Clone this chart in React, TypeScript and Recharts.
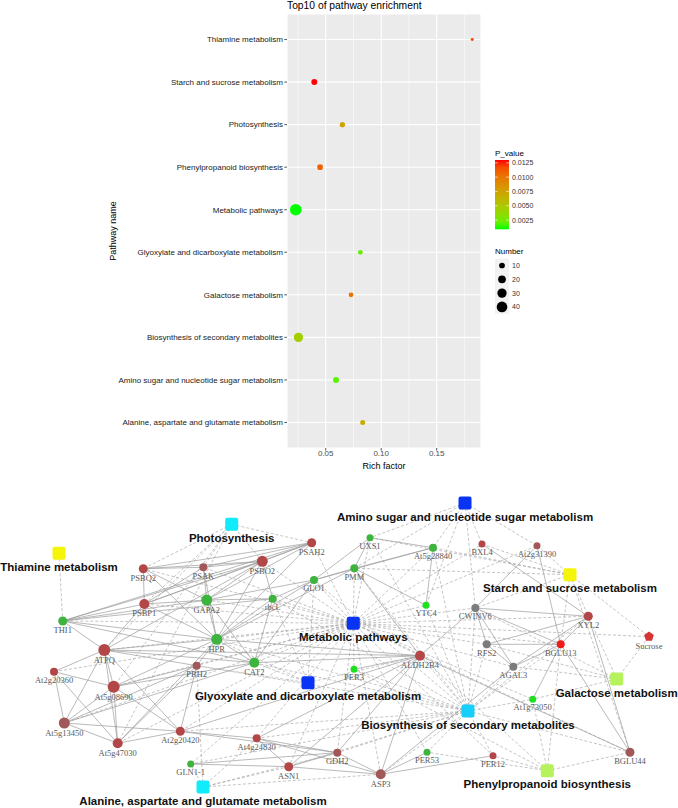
import React from 'react'
import {
  ScatterChart,
  Scatter,
  XAxis,
  YAxis,
  ZAxis,
  CartesianGrid,
  ReferenceLine,
  Cell,
} from 'recharts'

// ---------- enrichment dot plot data ----------
const PATHWAYS = [
  'Thiamine metabolism',
  'Starch and sucrose metabolism',
  'Photosynthesis',
  'Phenylpropanoid biosynthesis',
  'Metabolic pathways',
  'Glyoxylate and dicarboxylate metabolism',
  'Galactose metabolism',
  'Biosynthesis of secondary metabolites',
  'Amino sugar and nucleotide sugar metabolism',
  'Alanine, aspartate and glutamate metabolism',
]
const RICH_FACTOR = [0.182, 0.0397, 0.065, 0.0449, 0.023, 0.0812, 0.0728, 0.0254, 0.0593, 0.0833]
const P_VALUE = [0.0118, 0.013, 0.0075, 0.0108, 0.00088, 0.0022, 0.0102, 0.0045, 0.0018, 0.0068]
const GENE_NUMBER = [1, 11, 8, 10, 48, 6, 6, 30, 11, 7]
const X_TICKS = [0.05, 0.1, 0.15]
const X_MINOR = [0.025, 0.075, 0.125, 0.175]
const P_TICKS = [0.0125, 0.01, 0.0075, 0.005, 0.0025]
const SIZE_TICKS = [10, 20, 30, 40]

// ---------- network data (layout units of the network panel) ----------
const PATHWAY_NODES = [
  { id: 'amino', label: 'Amino sugar and nucleotide sugar metabolism', x: 465, y: 33, kind: 'blue' },
  { id: 'photo', label: 'Photosynthesis', x: 231.7, y: 54.3, kind: 'cyan' },
  { id: 'thiamine', label: 'Thiamine metabolism', x: 59, y: 83.3, kind: 'yellow' },
  { id: 'starch', label: 'Starch and sucrose metabolism', x: 570, y: 104.7, kind: 'yellow' },
  { id: 'metabolic', label: 'Metabolic pathways', x: 353.3, y: 153.3, kind: 'blue' },
  { id: 'glyox', label: 'Glyoxylate and dicarboxylate metabolism', x: 308, y: 212.7, kind: 'blue' },
  { id: 'galactose', label: 'Galactose metabolism', x: 616.7, y: 209, kind: 'lime' },
  { id: 'biosynth', label: 'Biosynthesis of secondary metabolites', x: 468, y: 241, kind: 'sky' },
  { id: 'phenyl', label: 'Phenylpropanoid biosynthesis', x: 547.3, y: 300.7, kind: 'lime' },
  { id: 'alanine', label: 'Alanine, aspartate and glutamate metabolism', x: 203, y: 317, kind: 'cyan' },
]

// w = connectivity weight of the gene node
const GENE_NODES = [
  { id: 'PSAH2', x: 311.7, y: 72.7, cls: 'red', w: 3 },
  { id: 'PSBQ2', x: 143.3, y: 98.7, cls: 'red', w: 3 },
  { id: 'PSAK', x: 203.3, y: 97.3, cls: 'brown', w: 2 },
  { id: 'PSBO2', x: 262.3, y: 91.3, cls: 'red', w: 5 },
  { id: 'GLO1', x: 314, y: 110, cls: 'green', w: 2 },
  { id: 'GAPA2', x: 206.7, y: 130, cls: 'green', w: 5 },
  { id: 'rbcL', x: 272.7, y: 128.7, cls: 'green', w: 2 },
  { id: 'PSBP1', x: 144.3, y: 134, cls: 'red', w: 4 },
  { id: 'THI1', x: 62.7, y: 151, cls: 'green', w: 3 },
  { id: 'HPR', x: 216.7, y: 169.3, cls: 'green', w: 5 },
  { id: 'ATPQ', x: 104.3, y: 180, cls: 'red', w: 6 },
  { id: 'At2g20360', x: 54, y: 201.7, cls: 'red', w: 2 },
  { id: 'PBH2', x: 196.7, y: 195.7, cls: 'brown', w: 2 },
  { id: 'CAT2', x: 254.3, y: 192.7, cls: 'green', w: 4 },
  { id: 'At5g08690', x: 113.7, y: 216.7, cls: 'red', w: 6 },
  { id: 'At5g13450', x: 64.3, y: 253, cls: 'brown', w: 5 },
  { id: 'At5g47030', x: 117.7, y: 273.3, cls: 'red', w: 4 },
  { id: 'At2g20420', x: 180.3, y: 261.3, cls: 'red', w: 3 },
  { id: 'At4g24830', x: 256.7, y: 268.3, cls: 'red', w: 2 },
  { id: 'GLN1-1', x: 190.7, y: 294, cls: 'green', w: 1 },
  { id: 'ASN1', x: 288.7, y: 296.7, cls: 'red', w: 3 },
  { id: 'GDH2', x: 337.3, y: 282.7, cls: 'brown', w: 2 },
  { id: 'ALDH2B4', x: 420, y: 185.7, cls: 'red', w: 4 },
  { id: 'PER3', x: 354, y: 199.3, cls: 'lime', w: 1 },
  { id: 'RFS2', x: 486.7, y: 174.3, cls: 'gray', w: 2 },
  { id: 'BGLU13', x: 560.7, y: 174.3, cls: 'bright', w: 2 },
  { id: 'AGAL3', x: 513.3, y: 196.7, cls: 'gray', w: 2 },
  { id: 'At1g73050', x: 532.7, y: 229.3, cls: 'lime', w: 1 },
  { id: 'PER53', x: 427, y: 282.3, cls: 'green', w: 1 },
  { id: 'PER12', x: 493, y: 285.7, cls: 'red', w: 1 },
  { id: 'ASP3', x: 380.7, y: 304.3, cls: 'brown', w: 4 },
  { id: 'BGLU44', x: 630, y: 282.3, cls: 'brown', w: 3 },
  { id: 'UXS1', x: 370, y: 67.7, cls: 'green', w: 1 },
  { id: 'At5g28840', x: 433, y: 77.7, cls: 'green', w: 2 },
  { id: 'BXL4', x: 482, y: 74, cls: 'red', w: 1 },
  { id: 'At2g31390', x: 537, y: 75.7, cls: 'brown', w: 1 },
  { id: 'PMM', x: 354.3, y: 98.3, cls: 'green', w: 2 },
  { id: 'YTC4', x: 426, y: 135.3, cls: 'lime', w: 1 },
  { id: 'CWINV6', x: 475.3, y: 138, cls: 'gray', w: 2 },
  { id: 'XYL2', x: 588.3, y: 146.3, cls: 'red', w: 3 },
  { id: 'Sucrose', x: 649, y: 166.7, cls: 'compound', w: 3 },
]

// pathway -> member genes (dashed edges)
const MEMBERS: Record<string, string[]> = {
  metabolic: [
    'PSAH2', 'PSBQ2', 'PSAK', 'PSBO2', 'GLO1', 'GAPA2', 'rbcL', 'PSBP1', 'THI1', 'HPR', 'ATPQ',
    'At2g20360', 'PBH2', 'CAT2', 'At5g08690', 'At5g13450', 'At5g47030', 'At2g20420', 'At4g24830',
    'GLN1-1', 'ASN1', 'GDH2', 'ALDH2B4', 'PER3', 'RFS2', 'BGLU13', 'AGAL3', 'At1g73050', 'ASP3',
    'BGLU44', 'UXS1', 'At5g28840', 'PMM', 'YTC4', 'CWINV6', 'XYL2', 'Sucrose', 'BXL4', 'At2g31390',
    'PER53', 'PER12',
  ],
  photo: ['PSAH2', 'PSBQ2', 'PSAK', 'PSBO2', 'PSBP1', 'ATPQ', 'At5g08690', 'At5g47030'],
  thiamine: ['THI1'],
  glyox: ['GLO1', 'HPR', 'CAT2', 'rbcL', 'PBH2', 'ALDH2B4'],
  amino: ['UXS1', 'At5g28840', 'PMM', 'BXL4', 'At2g31390', 'YTC4', 'CWINV6'],
  starch: ['BXL4', 'At2g31390', 'CWINV6', 'XYL2', 'BGLU13', 'BGLU44', 'Sucrose', 'UXS1', 'PMM', 'At5g28840'],
  galactose: ['RFS2', 'AGAL3', 'CWINV6', 'Sucrose', 'XYL2', 'At1g73050'],
  biosynth: [
    'PER3', 'PER53', 'PER12', 'BGLU13', 'BGLU44', 'At1g73050', 'ALDH2B4', 'ASP3', 'GDH2', 'At4g24830',
    'ASN1', 'At5g28840', 'UXS1', 'PMM', 'CAT2', 'GLO1', 'HPR', 'GLN1-1', 'YTC4', 'RFS2', 'AGAL3',
    'CWINV6', 'XYL2', 'rbcL', 'At2g20420', 'PBH2',
  ],
  phenyl: ['PER3', 'PER53', 'PER12', 'BGLU13', 'BGLU44', 'At1g73050', 'ALDH2B4'],
  alanine: ['GLN1-1', 'ASN1', 'GDH2', 'ASP3', 'At4g24830', 'PBH2'],
}

// gene - gene interactions (solid edges)
const LINKS: [string, string][] = [
  ['PSAH2', 'PSBQ2'], ['PSAH2', 'PSBO2'], ['PSAH2', 'PSAK'], ['PSAH2', 'PSBP1'], ['PSAH2', 'GAPA2'],
  ['PSAH2', 'THI1'], ['PSAH2', 'HPR'], ['PSBQ2', 'PSBO2'], ['PSBQ2', 'PSAK'], ['PSBQ2', 'PSBP1'],
  ['PSBQ2', 'HPR'], ['PSBQ2', 'GAPA2'], ['PSAK', 'PSBO2'], ['PSAK', 'GAPA2'], ['PSAK', 'HPR'],
  ['PSAK', 'PSBP1'], ['PSBO2', 'PSBP1'], ['PSBO2', 'GAPA2'], ['PSBO2', 'HPR'], ['PSBO2', 'rbcL'],
  ['PSBO2', 'THI1'], ['PSBO2', 'ATPQ'], ['PSBP1', 'GAPA2'], ['PSBP1', 'THI1'], ['PSBP1', 'ATPQ'],
  ['PSBP1', 'HPR'], ['THI1', 'GAPA2'], ['THI1', 'HPR'], ['THI1', 'ATPQ'], ['THI1', 'rbcL'],
  ['THI1', 'CAT2'], ['GAPA2', 'HPR'], ['GAPA2', 'rbcL'], ['GAPA2', 'GLO1'], ['GAPA2', 'CAT2'],
  ['HPR', 'GLO1'], ['HPR', 'CAT2'], ['HPR', 'rbcL'], ['HPR', 'ATPQ'], ['HPR', 'At5g08690'],
  ['HPR', 'ALDH2B4'], ['HPR', 'PMM'], ['GLO1', 'CAT2'], ['GLO1', 'rbcL'], ['GLO1', 'PMM'],
  ['GLO1', 'UXS1'], ['GLO1', 'At5g28840'], ['CAT2', 'ALDH2B4'], ['CAT2', 'rbcL'], ['CAT2', 'ATPQ'],
  ['CAT2', 'At5g13450'], ['ATPQ', 'At5g08690'], ['ATPQ', 'At5g13450'], ['ATPQ', 'At5g47030'],
  ['ATPQ', 'At2g20360'], ['ATPQ', 'At2g20420'], ['ATPQ', 'PBH2'], ['ATPQ', 'ALDH2B4'],
  ['At2g20360', 'At5g08690'], ['At2g20360', 'At5g13450'], ['At2g20360', 'At5g47030'],
  ['At5g08690', 'At5g13450'], ['At5g08690', 'At5g47030'], ['At5g08690', 'At2g20420'],
  ['At5g08690', 'PBH2'], ['At5g08690', 'CAT2'], ['At5g13450', 'At5g47030'], ['At5g13450', 'At2g20420'],
  ['At5g13450', 'PBH2'], ['At5g47030', 'At2g20420'], ['At5g47030', 'PBH2'], ['At5g47030', 'HPR'],
  ['At2g20420', 'PBH2'], ['At2g20420', 'ALDH2B4'], ['PBH2', 'HPR'],
  ['PMM', 'UXS1'], ['PMM', 'At5g28840'], ['PMM', 'YTC4'], ['PMM', 'ALDH2B4'], ['At5g28840', 'UXS1'],
  ['At5g28840', 'YTC4'], ['BXL4', 'XYL2'], ['At2g31390', 'CWINV6'], ['At2g31390', 'BGLU13'],
  ['CWINV6', 'XYL2'], ['CWINV6', 'RFS2'], ['CWINV6', 'AGAL3'], ['CWINV6', 'BGLU13'], ['CWINV6', 'ALDH2B4'],
  ['XYL2', 'BGLU13'], ['XYL2', 'RFS2'], ['XYL2', 'AGAL3'], ['XYL2', 'BGLU44'], ['RFS2', 'AGAL3'],
  ['RFS2', 'BGLU13'], ['AGAL3', 'BGLU13'], ['AGAL3', 'ASP3'], ['BGLU13', 'At1g73050'], ['BGLU13', 'BGLU44'],
  ['ALDH2B4', 'BGLU44'], ['ALDH2B4', 'GDH2'], ['ALDH2B4', 'ASP3'], ['ALDH2B4', 'ASN1'],
  ['ALDH2B4', 'At4g24830'], ['ALDH2B4', 'PER3'], ['ASN1', 'GDH2'], ['ASN1', 'ASP3'], ['ASN1', 'At4g24830'],
  ['ASN1', 'GLN1-1'], ['GDH2', 'ASP3'], ['GDH2', 'At4g24830'], ['GDH2', 'GLN1-1'], ['GDH2', 'At2g20420'],
  ['ASP3', 'At4g24830'], ['ASP3', 'PER12'], ['ASP3', 'PER53'], ['At4g24830', 'At2g20420'],
]

// ---------- styles ----------
const SANS = "'Liberation Sans', Arial, Helvetica, sans-serif"
const SERIF = "'Liberation Serif', 'DejaVu Serif', serif"

const PATHWAY_COLORS: Record<string, string> = {
  blue: '#0A34F5',
  cyan: '#12ECFA',
  sky: '#16CFFA',
  yellow: '#F5F50A',
  lime: '#B6F25C',
}
const GENE_COLORS: Record<string, string> = {
  red: '#B34747',
  brown: '#A25858',
  green: '#3DB43D',
  lime: '#1FE01F',
  gray: '#7C7C7C',
  bright: '#EE1B1B',
  compound: '#D63434',
}

// ggplot-like gradient: green -> red interpolated in Lab space
const toLin = (c: number) => {
  const v = c / 255
  return v <= 0.04045 ? v / 12.92 : Math.pow((v + 0.055) / 1.055, 2.4)
}
const fromLin = (c: number) => {
  const v = c <= 0.0031308 ? 12.92 * c : 1.055 * Math.pow(c, 1 / 2.4) - 0.055
  return Math.round(Math.max(0, Math.min(1, v)) * 255)
}
const WX = 0.95047
const WZ = 1.08883
function rgbToLab(rgb: number[]) {
  const [r, g, b] = rgb.map(toLin)
  const x = (r * 0.4124 + g * 0.3576 + b * 0.1805) / WX
  const y = r * 0.2126 + g * 0.7152 + b * 0.0722
  const z = (r * 0.0193 + g * 0.1192 + b * 0.9505) / WZ
  const f = (t: number) => (t > 0.008856 ? Math.cbrt(t) : 7.787 * t + 16 / 116)
  return [116 * f(y) - 16, 500 * (f(x) - f(y)), 200 * (f(y) - f(z))]
}
function labToHex(lab: number[]) {
  const fy = (lab[0] + 16) / 116
  const fx = fy + lab[1] / 500
  const fz = fy - lab[2] / 200
  const inv = (t: number) => (t * t * t > 0.008856 ? t * t * t : (t - 16 / 116) / 7.787)
  const x = inv(fx) * WX
  const y = inv(fy)
  const z = inv(fz) * WZ
  const r = fromLin(3.2406 * x - 1.5372 * y - 0.4986 * z)
  const g = fromLin(-0.9689 * x + 1.8758 * y + 0.0415 * z)
  const b = fromLin(0.0557 * x - 0.204 * y + 1.057 * z)
  return '#' + [r, g, b].map((v) => v.toString(16).padStart(2, '0')).join('')
}
const LAB_LOW = rgbToLab([0, 255, 0])
const LAB_HIGH = rgbToLab([255, 0, 0])
const P_MIN = Math.min(...P_VALUE)
const P_MAX = Math.max(...P_VALUE)
function pColor(p: number) {
  const t = (p - P_MIN) / (P_MAX - P_MIN)
  return labToHex(LAB_LOW.map((v, i) => v + (LAB_HIGH[i] - v) * t))
}

const SIZE_DOMAIN = [Math.min(...GENE_NUMBER), Math.max(...GENE_NUMBER)]
const SIZE_RANGE = [7, 106]
const sizeRadius = (n: number) => {
  const area =
    SIZE_RANGE[0] + ((n - SIZE_DOMAIN[0]) / (SIZE_DOMAIN[1] - SIZE_DOMAIN[0])) * (SIZE_RANGE[1] - SIZE_RANGE[0])
  return Math.sqrt(area / Math.PI)
}

const enrichData = PATHWAYS.map((name, i) => ({
  name,
  idx: i,
  rich: RICH_FACTOR[i],
  p: P_VALUE[i],
  n: GENE_NUMBER[i],
}))

// legend geometry
const BAR_X = 495
const BAR_TOP = 160
const BAR_H = 69.3
const BAR_W = 14
const barY = (p: number) => BAR_TOP + ((P_MAX - p) / (P_MAX - P_MIN)) * BAR_H

// single-line category label (recharts would wrap long labels)
function PathwayTick(props: any) {
  const { x, y, payload } = props
  return (
    <text x={x} y={y} dy="0.355em" textAnchor="end" fontSize={8} fill="#222222" fontFamily={SANS}>
      {PATHWAYS[payload.value]}
    </text>
  )
}

function EnrichmentPlot() {
  const stops = Array.from({ length: 11 }, (_, i) => i / 10)
  return (
    <div style={{ position: 'absolute', left: 0, top: 0, width: 678, height: 470 }}>
      <ScatterChart width={678} height={470} margin={{ top: 14, right: 197, bottom: 0, left: 0 }}>
        <CartesianGrid fill="#EBEBEB" stroke="#FFFFFF" strokeWidth={1.1} />
        <XAxis
          type="number"
          dataKey="rich"
          domain={[0.0151, 0.1899]}
          ticks={X_TICKS}
          interval={0}
          allowDataOverflow
          height={22}
          axisLine={false}
          tickSize={2.7}
          tickMargin={0}
          tickLine={{ stroke: '#333333', strokeWidth: 0.8 }}
          tickFormatter={(v: number) => v.toFixed(2)}
          tick={{ fontSize: 8, fill: '#4D4D4D', fontFamily: SANS }}
        />
        <YAxis
          type="number"
          dataKey="idx"
          domain={[-0.6, 9.6]}
          ticks={PATHWAYS.map((_, i) => i)}
          interval={0}
          reversed
          allowDataOverflow
          width={287}
          axisLine={false}
          tickSize={2.7}
          tickMargin={1.3}
          tickLine={{ stroke: '#333333', strokeWidth: 0.8 }}
          tick={PathwayTick}
        />
        <ZAxis type="number" dataKey="n" domain={SIZE_DOMAIN} range={SIZE_RANGE} />
        {X_MINOR.map((v) => (
          <ReferenceLine key={v} x={v} stroke="#FFFFFF" strokeWidth={0.55} />
        ))}
        <Scatter data={enrichData} isAnimationActive={false}>
          {enrichData.map((d) => (
            <Cell key={d.name} fill={pColor(d.p)} />
          ))}
        </Scatter>
      </ScatterChart>
      <svg
        width={678}
        height={470}
        style={{ position: 'absolute', left: 0, top: 0, pointerEvents: 'none' }}
        fontFamily={SANS}
      >
        <defs>
          <linearGradient id="pgrad" x1="0" y1="0" x2="0" y2="1">
            {stops.map((t) => (
              <stop key={t} offset={t} stopColor={pColor(P_MAX - t * (P_MAX - P_MIN))} />
            ))}
          </linearGradient>
        </defs>
        <text x={287} y={9} fontSize={10.3} fill="#000">
          Top10 of pathway enrichment
        </text>
        <text x={384} y={469} textAnchor="middle" fontSize={9} fill="#000">
          Rich factor
        </text>
        <text transform="translate(116,231) rotate(-90)" textAnchor="middle" fontSize={9} fill="#000">
          Pathway name
        </text>
        <text x={BAR_X} y={156} fontSize={8} fill="#000">
          P_value
        </text>
        <rect x={BAR_X} y={BAR_TOP} width={BAR_W} height={BAR_H} fill="url(#pgrad)" />
        {P_TICKS.map((p) => (
          <g key={p}>
            <line x1={BAR_X} x2={BAR_X + 2.8} y1={barY(p)} y2={barY(p)} stroke="#FFFFFF" strokeWidth={0.6} />
            <line
              x1={BAR_X + BAR_W - 2.8}
              x2={BAR_X + BAR_W}
              y1={barY(p)}
              y2={barY(p)}
              stroke="#FFFFFF"
              strokeWidth={0.6}
            />
            <text x={BAR_X + BAR_W + 3} y={barY(p) + 2.5} fontSize={7} fill="#333333">
              {p.toFixed(4)}
            </text>
          </g>
        ))}
        <text x={BAR_X} y={254} fontSize={8} fill="#000">
          Number
        </text>
        {SIZE_TICKS.map((n, i) => {
          const cy = 265.5 + i * 13.8
          return (
            <g key={n}>
              <rect x={BAR_X} y={cy - 6.9} width={BAR_W} height={13.8} fill="#F2F2F2" />
              <circle cx={BAR_X + BAR_W / 2} cy={cy} r={sizeRadius(n)} fill="#000" />
              <text x={BAR_X + BAR_W + 3} y={cy + 2.5} fontSize={7} fill="#333333">
                {n}
              </text>
            </g>
          )
        })}
      </svg>
    </div>
  )
}

// ---------- network ----------
const NODE_POS: Record<string, { x: number; y: number }> = {}
PATHWAY_NODES.forEach((n) => (NODE_POS[n.id] = { x: n.x, y: n.y }))
GENE_NODES.forEach((n) => (NODE_POS[n.id] = { x: n.x, y: n.y }))

const pentagon = (cx: number, cy: number, r: number) =>
  Array.from({ length: 5 }, (_, i) => {
    const a = -Math.PI / 2 + (i * 2 * Math.PI) / 5
    return `${cx + r * Math.cos(a)},${cy + r * Math.sin(a)}`
  }).join(' ')

function GeneShape(props: any) {
  const { cx, cy, payload } = props
  const r = 3 + payload.w * 0.5
  const fill = GENE_COLORS[payload.cls]
  return (
    <g>
      {payload.cls === 'compound' ? (
        <polygon points={pentagon(cx, cy, r + 0.6)} fill={fill} />
      ) : (
        <circle cx={cx} cy={cy} r={r} fill={fill} />
      )}
      <text
        x={cx}
        y={cy + r + 7.3}
        textAnchor="middle"
        fontSize={8.5}
        fontFamily={SERIF}
        fill="#5A5A5A"
      >
        {payload.id}
      </text>
    </g>
  )
}

function PathwayShape(props: any) {
  const { cx, cy, payload } = props
  return (
    <g>
      <rect x={cx - 6.5} y={cy - 6.5} width={13} height={13} rx={2} fill={PATHWAY_COLORS[payload.kind]} />
      <text
        x={cx}
        y={cy + 17.6}
        textAnchor="middle"
        fontSize={11.5}
        fontWeight="bold"
        fontFamily={SANS}
        fill="#111111"
      >
        {payload.label}
      </text>
    </g>
  )
}

function NetworkPlot() {
  const dashed: [string, string][] = []
  Object.keys(MEMBERS).forEach((pw) => MEMBERS[pw].forEach((g) => dashed.push([pw, g])))
  return (
    <div style={{ position: 'absolute', left: 0, top: 470, width: 678, height: 338 }}>
      <ScatterChart width={678} height={338} margin={{ top: 0, right: 0, bottom: 0, left: 0 }}>
        <XAxis type="number" dataKey="x" domain={[0, 678]} hide allowDataOverflow />
        <YAxis type="number" dataKey="y" domain={[0, 338]} reversed hide allowDataOverflow />
        {dashed.map(([a, b], i) => (
          <ReferenceLine
            key={'d' + i}
            segment={[NODE_POS[a], NODE_POS[b]]}
            stroke="#A6A6A6"
            strokeWidth={0.65}
            strokeDasharray="3 2"
            ifOverflow="visible"
          />
        ))}
        {LINKS.map(([a, b], i) => (
          <ReferenceLine
            key={'s' + i}
            segment={[NODE_POS[a], NODE_POS[b]]}
            stroke="#9C9C9C"
            strokeWidth={0.7}
            ifOverflow="visible"
          />
        ))}
        <Scatter data={GENE_NODES} shape={GeneShape} isAnimationActive={false} />
        <Scatter data={PATHWAY_NODES} shape={PathwayShape} isAnimationActive={false} />
      </ScatterChart>
    </div>
  )
}

export default function App() {
  return (
    <div style={{ position: 'absolute', left: 0, top: 0, width: 678, height: 808, background: '#FFFFFF' }}>
      <EnrichmentPlot />
      <NetworkPlot />
    </div>
  )
}
